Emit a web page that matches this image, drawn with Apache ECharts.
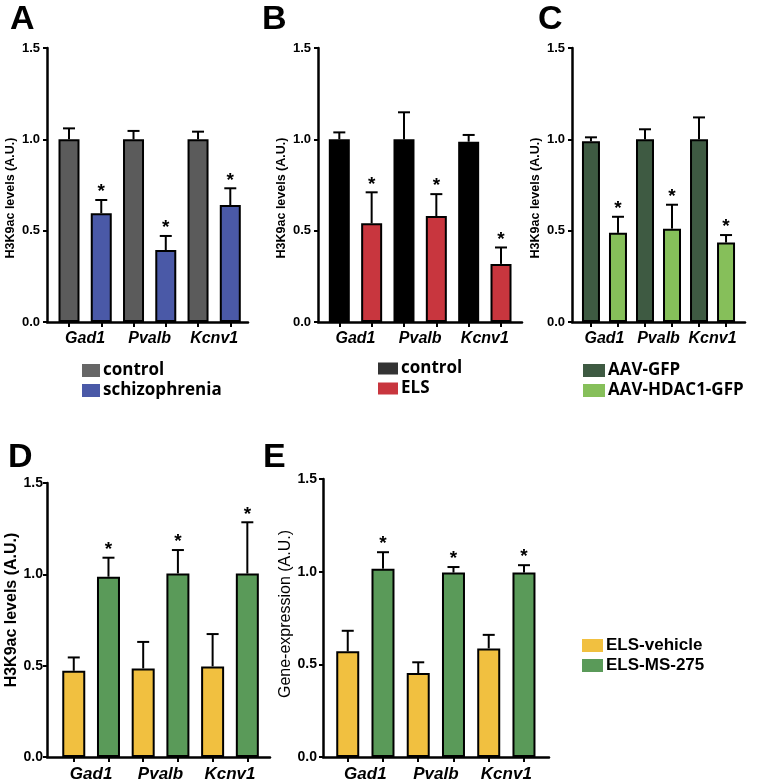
<!DOCTYPE html>
<html><head><meta charset="utf-8">
<script src="https://cdn.jsdelivr.net/npm/echarts@6/dist/echarts.min.js"></script>
<style>html,body{margin:0;padding:0;background:#fff}#c{width:757px;height:783px}</style>
</head><body><div id="c"></div>
<script>
// ---------- data ----------
const genes = ['Gad1', 'Pvalb', 'Kcnv1'];
const yTickLabels = ['0.0', '0.5', '1.0', '1.5'];

// Panel A
const aGroups = ['control', 'schizophrenia'];
const aCtrlMean = [1.0, 1.0, 1.0];
const aCtrlErr  = [0.060, 0.046, 0.042];
const aSzMean   = [0.595, 0.394, 0.640];
const aSzErr    = [0.073, 0.077, 0.092];
const aSig      = [1, 1, 1];

// Panel B
const bGroups = ['control', 'ELS'];
const bCtrlMean = [1.0, 1.0, 0.987];
const bCtrlErr  = [0.038, 0.148, 0.037];
const bElsMean  = [0.540, 0.580, 0.318];
const bElsErr   = [0.170, 0.120, 0.090];
const bSig      = [1, 1, 1];

// Panel C
const cGroups = ['AAV-GFP', 'AAV-HDAC1-GFP'];
const cGfpMean   = [0.989, 1.0, 1.0];
const cGfpErr    = [0.022, 0.055, 0.120];
const cHdacMean  = [0.488, 0.511, 0.435];
const cHdacErr   = [0.088, 0.131, 0.041];
const cSig       = [1, 1, 1];

// Panel D
const deGroups = ['ELS-vehicle', 'ELS-MS-275'];
const dVehMean = [0.472, 0.485, 0.496];
const dVehErr  = [0.073, 0.145, 0.177];
const dMsMean  = [0.987, 1.005, 1.004];
const dMsErr   = [0.104, 0.128, 0.281];
const dSig     = [1, 1, 1];

// Panel E
const eVehMean = [0.570, 0.453, 0.586];
const eVehErr  = [0.111, 0.058, 0.073];
const eMsMean  = [1.016, 0.995, 0.995];
const eMsErr   = [0.089, 0.030, 0.040];
const eSig     = [1, 1, 1];

// ---------- build ----------
const AX = 'Liberation Sans, Arial, Helvetica, sans-serif';
const LG = 'Open Sans, Liberation Sans, sans-serif';

const panels = [
  {id:'A', grid:{left:47, top:48, width:201, height:274}, xmin:-0.682, xmax:5.549, bw:21,
   names:aGroups, m1:aCtrlMean, e1:aCtrlErr, m2:aSzMean, e2:aSzErr, sig:aSig,
   c1:'#5b5b5b', c2:'#4a59a7', yname:'H3K9ac levels (A.U.)', nameGap:30, nameSize:12.5, namePad:[0,26,0,0],
   tickSize:13, tickMargin:7, lblSize:16,
   legend:{left:82, top:362, w:18, h:13, font:LG, lc1:'#666666'}},
  {id:'B', grid:{left:318, top:48, width:204, height:274}, xmin:-0.659, xmax:5.649, bw:21,
   names:bGroups, m1:bCtrlMean, e1:bCtrlErr, m2:bElsMean, e2:bElsErr, sig:bSig,
   c1:'#000000', c2:'#c8363e', yname:'H3K9ac levels (A.U.)', nameGap:30, nameSize:12.5, namePad:[0,26,0,0],
   tickSize:13, tickMargin:7, lblSize:16,
   legend:{left:378, top:360, w:20, h:12, font:LG, lc1:'#333333'}},
  {id:'C', grid:{left:572, top:48, width:173, height:274}, xmin:-0.702, xmax:5.702, bw:18,
   names:cGroups, m1:cGfpMean, e1:cGfpErr, m2:cHdacMean, e2:cHdacErr, sig:cSig,
   c1:'#3e5a42', c2:'#86bf5a', yname:'H3K9ac levels (A.U.)', nameGap:30, nameSize:12.5, namePad:[0,26,0,0],
   tickSize:13, tickMargin:7, lblSize:16,
   legend:{left:583, top:362, w:22, h:13, font:LG}},
  {id:'D', grid:{left:47, top:483, width:223, height:275}, xmin:-0.771, xmax:5.653, bw:23,
   names:deGroups, m1:dVehMean, e1:dVehErr, m2:dMsMean, e2:dMsErr, sig:dSig,
   c1:'#f1c040', c2:'#5a9a59', yname:'H3K9ac levels (A.U.)', nameGap:25, nameSize:16, namePad:[0,0,0,20],
   tickSize:14, tickMargin:4, lblSize:17,
   legend:{left:582, top:637, w:21, h:13, font:AX}},
  {id:'E', grid:{left:323, top:479, width:226, height:279}, xmin:-0.702, xmax:5.71, bw:23,
   names:deGroups, m1:eVehMean, e1:eVehErr, m2:eMsMean, e2:eMsErr, sig:eSig,
   c1:'#f1c040', c2:'#5a9a59', yname:'Gene-expression (A.U.)', nameGap:27, nameSize:16, namePad:[0,0,0,8], nameWeight:'normal',
   tickSize:14, tickMargin:6, lblSize:17}
];

const option = {animation:false, backgroundColor:'#fff', grid:[], xAxis:[], yAxis:[], series:[], legend:[], title:[]};

const titlePos = {A:[10,3], B:[262,3], C:[538,3], D:[8,441], E:[263,441]};

panels.forEach((p, gi) => {
  option.grid.push(Object.assign({containLabel:false}, p.grid));
  option.xAxis.push({
    gridIndex:gi, type:'value', min:p.xmin, max:p.xmax,
    axisLine:{show:true, onZero:false, lineStyle:{color:'#000', width:2.5}},
    splitLine:{show:false},
    axisTick:{show:true, customValues:[0,1,2,3,4,5], length:5, lineStyle:{color:'#000', width:2}},
    axisLabel:{customValues:[0.5,2.5,4.5], formatter:v => genes[Math.round((v-0.5)/2)],
      fontStyle:'italic', fontWeight:'bold', fontSize:p.lblSize, color:'#000', margin:9, fontFamily:AX}
  });
  option.yAxis.push({
    gridIndex:gi, type:'value', min:0, max:1.5, interval:0.5,
    axisLine:{show:true, onZero:false, lineStyle:{color:'#000', width:2.5}},
    axisTick:{show:true, length:4, lineStyle:{color:'#000', width:2}},
    splitLine:{show:false},
    axisLabel:{formatter:v => yTickLabels[Math.round(v/0.5)], fontWeight:'bold', fontSize:p.tickSize, color:'#000', margin:p.tickMargin, fontFamily:AX},
    name:p.yname, nameLocation:'middle', nameGap:p.nameGap,
    nameTextStyle:{fontWeight:p.nameWeight || 'bold', fontSize:p.nameSize, color:'#000', fontFamily:AX, padding:p.namePad}
  });
  const n1 = p.id + '|' + p.names[0], n2 = p.id + '|' + p.names[1];
  option.series.push({
    type:'bar', name:n1, xAxisIndex:gi, yAxisIndex:gi, barWidth:p.bw, barGap:'-100%',
    data:p.m1.map((v,i) => [2*i, v]),
    itemStyle:{color:p.c1, borderColor:'#000', borderWidth:2}
  });
  option.series.push({
    type:'bar', name:n2, xAxisIndex:gi, yAxisIndex:gi, barWidth:p.bw, barGap:'-100%',
    data:p.m2.map((v,i) => [2*i+1, v]),
    itemStyle:{color:p.c2, borderColor:'#000', borderWidth:2}
  });
  const errData = [];
  p.m1.forEach((v,i) => errData.push([2*i, v, p.e1[i], 0]));
  p.m2.forEach((v,i) => errData.push([2*i+1, v, p.e2[i], p.sig[i]]));
  option.series.push({
    type:'custom', xAxisIndex:gi, yAxisIndex:gi, z:5, silent:true,
    encode:{x:0, y:1},
    data:errData,
    renderItem:(params, api) => {
      const x = api.value(0), m = api.value(1), e = api.value(2), s = api.value(3);
      const p0 = api.coord([x, m]), p1 = api.coord([x, m + e]);
      const st = {stroke:'#000', lineWidth:2};
      const ch = [
        {type:'line', shape:{x1:p0[0], y1:p0[1], x2:p1[0], y2:p1[1]}, style:st},
        {type:'line', shape:{x1:p1[0]-6, y1:p1[1], x2:p1[0]+6, y2:p1[1]}, style:st}
      ];
      if (s) ch.push({type:'text', x:p1[0], y:p1[1]-8,
        style:{text:'*', align:'center', verticalAlign:'middle', font:'bold 19px ' + AX, fill:'#000'}});
      return {type:'group', children:ch};
    }
  });
  if (p.legend) {
    const L = p.legend;
    option.legend.push({
      data:[{name:n1, itemStyle:L.lc1 ? {color:L.lc1} : undefined}, {name:n2}],
      orient:'vertical', left:L.left, top:L.top, icon:'rect',
      itemWidth:L.w, itemHeight:L.h, itemGap:3, padding:0, selectedMode:false,
      itemStyle:{borderWidth:0},
      formatter:n => n.split('|')[1],
      textStyle:{fontFamily:L.font, fontWeight:'bold', fontSize:17, color:'#000', padding:[0,0,0,-2]}
    });
  }
  const tp = titlePos[p.id];
  option.title.push({text:p.id, left:tp[0], top:tp[1], padding:0,
    textStyle:{fontFamily:AX, fontWeight:'bold', fontSize:34, color:'#000'}});
});

const chart = echarts.init(document.getElementById('c'), null, {renderer:'canvas'});
chart.setOption(option);
</script></body></html>
